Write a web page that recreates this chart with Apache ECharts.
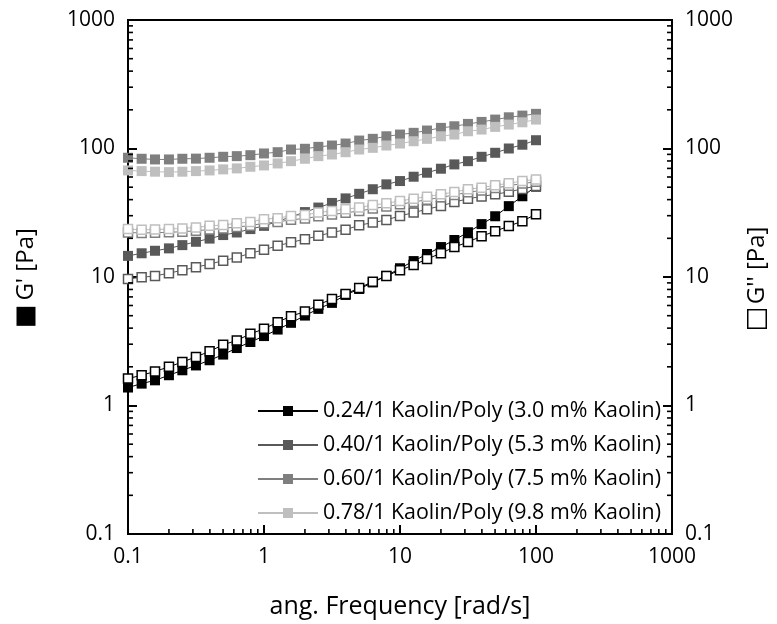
<!DOCTYPE html>
<html>
<head>
<meta charset="utf-8">
<script src="https://cdn.jsdelivr.net/npm/echarts@6/dist/echarts.min.js"></script>
<style>
  html, body { margin: 0; padding: 0; background: #ffffff; }
  #chart { width: 777px; height: 624px; }
</style>
</head>
<body>
<div id="chart"></div>
<script>
// Angular frequency sweep [rad/s], 10 points per decade
const frequency = [0.1, 0.126, 0.158, 0.2, 0.251, 0.316, 0.398, 0.501, 0.631, 0.794,
  1, 1.26, 1.58, 2, 2.51, 3.16, 3.98, 5.01, 6.31, 7.94,
  10, 12.6, 15.8, 20, 25.1, 31.6, 39.8, 50.1, 63.1, 79.4, 100];

// Sample labels (Kaolin/Poly ratio)
const samples = [
  '0.24/1 Kaolin/Poly (3.0 m% Kaolin)',
  '0.40/1 Kaolin/Poly (5.3 m% Kaolin)',
  '0.60/1 Kaolin/Poly (7.5 m% Kaolin)',
  '0.78/1 Kaolin/Poly (9.8 m% Kaolin)'
];

// Storage modulus G' [Pa]
const storage024 = [1.38, 1.48, 1.57, 1.72, 1.88, 2.05, 2.25, 2.49, 2.80, 3.12,
  3.47, 3.90, 4.40, 5.01, 5.65, 6.29, 7.25, 8.07, 9.07, 10.2,
  11.7, 13.3, 15.1, 17.1, 19.4, 22.3, 25.8, 29.7, 35.6, 42.5, 50.5];
const storage040 = [14.6, 15.3, 16.0, 16.7, 17.7, 18.8, 19.9, 21.2, 22.2, 23.6,
  25.0, 27.1, 29.4, 32.0, 34.7, 37.7, 40.9, 44.4, 48.2, 52.6,
  55.8, 60.3, 64.8, 69.6, 75.2, 79.7, 86.2, 92.6, 100, 107, 116];
const storage060 = [84.7, 83.2, 82.2, 82.2, 83.2, 83.4, 84.7, 86.2, 87.2, 88.7,
  91.5, 93.6, 98.2, 99.5, 103, 105.5, 109.3, 115.3, 118.9, 124.5,
  128.4, 132.4, 138, 144.7, 148.9, 155.4, 161, 167.9, 174.9, 180.3, 186];
const storage078 = [67.5, 66.7, 66.0, 65.5, 66.0, 66.7, 67.5, 68.8, 70.0, 72.1,
  73.8, 76.5, 79.7, 83.2, 87.2, 89.8, 93.6, 98.2, 101.2, 105.5,
  109.3, 113.9, 118.9, 124.5, 128.4, 136.2, 140.4, 147.3, 153.5, 159.9, 167.9];

// Loss modulus G'' [Pa]
const loss024 = [1.62, 1.72, 1.84, 2.00, 2.18, 2.39, 2.64, 2.97, 3.21, 3.61,
  3.95, 4.45, 4.96, 5.38, 6.07, 6.75, 7.38, 8.22, 9.20, 10.2,
  11.3, 12.4, 13.8, 15.3, 17.1, 18.7, 20.8, 22.7, 24.9, 27.2, 30.8];
const loss040 = [9.65, 9.94, 10.2, 10.7, 11.3, 11.9, 12.6, 13.4, 14.2, 15.3,
  16.3, 17.5, 18.6, 19.7, 20.9, 22.2, 23.3, 25.3, 26.5, 27.8,
  29.9, 31.7, 33.7, 35.7, 38.3, 40.6, 42.4, 44.0, 46.0, 48.5, 51.0];
const loss060 = [22.2, 22.0, 22.1, 22.3, 22.5, 22.9, 23.4, 23.9, 24.5, 25.1,
  26.2, 26.8, 27.9, 28.5, 29.7, 30.6, 31.6, 32.6, 34.1, 35.3,
  36.8, 38.4, 39.9, 41.7, 43.5, 45.6, 47.2, 49.3, 51.3, 53.4, 55.0];
const loss078 = [23.6, 23.3, 23.4, 23.6, 23.9, 24.3, 25.0, 25.4, 26.2, 26.8,
  28.2, 28.7, 29.9, 30.4, 31.7, 32.7, 33.7, 34.7, 36.3, 37.5,
  39.0, 40.7, 42.2, 44.0, 45.8, 48.1, 49.6, 51.7, 53.6, 55.8, 57.5];

// Axis ranges and decade tick labels
const xRange = [0.1, 1000];
const yRange = [0.1, 1000];
const decadeLabels = ['0.1', '1', '10', '100', '1000'];

const storageSets = [storage024, storage040, storage060, storage078];
const lossSets = [loss024, loss040, loss060, loss078];
const sampleColors = ['#000000', '#595959', '#7f7f7f', '#bfbfbf'];

const FONT = '"Open Sans", "Liberation Sans", sans-serif';

function pairs(values) {
  return frequency.map((f, i) => [f, values[i]]);
}

// minor tick positions 2..9 within each decade of the axis range
function minorValues(range) {
  const out = [];
  for (let e = Math.round(Math.log10(range[0])); e < Math.round(Math.log10(range[1])); e++) {
    for (let m = 2; m <= 9; m++) out.push(+(m * Math.pow(10, e)).toPrecision(3));
  }
  return out;
}

function tickSeries(points, dx, dy) {
  return {
    type: 'custom',
    silent: true,
    z: 6,
    clip: false,
    data: points,
    renderItem: function (params, api) {
      const p = api.coord([api.value(0), api.value(1)]);
      return {
        type: 'line',
        shape: { x1: p[0], y1: p[1], x2: p[0] + dx, y2: p[1] + dy },
        style: { stroke: '#000', lineWidth: 1.6 }
      };
    }
  };
}

const series = [];
samples.forEach((name, k) => {
  const c = sampleColors[k];
  series.push({
    name: name,
    type: 'line',
    data: pairs(storageSets[k]),
    symbol: 'rect',
    symbolSize: 10,
    itemStyle: { color: c },
    lineStyle: { color: c, width: 1 },
    emphasis: { disabled: true },
    z: 3
  });
  series.push({
    name: name + " G''",
    type: 'line',
    data: pairs(lossSets[k]),
    symbol: 'rect',
    symbolSize: 9,
    itemStyle: { color: '#ffffff', borderColor: c, borderWidth: 1.5 },
    lineStyle: { color: c, width: 1 },
    emphasis: { disabled: true },
    z: 3
  });
});

const yMinor = minorValues(yRange);
const xMinor = minorValues(xRange);
series.push(tickSeries(yMinor.map(v => [xRange[0], v]), 5, 0));
series.push(tickSeries(yMinor.map(v => [xRange[1], v]), -5, 0));
series.push(tickSeries(xMinor.map(v => [v, yRange[0]]), 0, -5));

function labelFormatter(v) {
  const s = String(+v.toPrecision(3));
  return decadeLabels.indexOf(s) >= 0 ? s : '';
}

const axisCommon = {
  type: 'log',
  logBase: 10,
  axisLine: { show: true, lineStyle: { color: '#000', width: 2 } },
  axisTick: { show: true, inside: true, length: 9, lineStyle: { color: '#000', width: 2 } },
  splitLine: { show: false },
  axisLabel: { color: '#000', fontSize: 21, fontFamily: FONT, formatter: labelFormatter }
};

const chart = echarts.init(document.getElementById('chart'), null, { renderer: 'canvas' });
chart.setOption({
  animation: false,
  backgroundColor: '#ffffff',
  grid: {
    left: 128, right: 98, top: 20, bottom: 88,
    show: true, borderColor: '#000', borderWidth: 2, backgroundColor: 'transparent'
  },
  legend: {
    data: samples,
    orient: 'vertical',
    left: 257,
    top: 399,
    padding: 0,
    itemWidth: 60,
    itemHeight: 12.5,
    itemGap: 10,
    selectedMode: false,
    textStyle: { color: '#000', fontSize: 21.4, fontFamily: FONT, lineHeight: 24 }
  },
  xAxis: Object.assign({}, axisCommon, {
    min: xRange[0], max: xRange[1],
    axisLabel: Object.assign({}, axisCommon.axisLabel, { margin: 13 }),
    name: 'ang. Frequency [rad/s]',
    nameLocation: 'middle',
    nameGap: 60,
    nameTextStyle: { color: '#000', fontSize: 25, fontFamily: FONT }
  }),
  yAxis: [
    Object.assign({}, axisCommon, {
      position: 'left',
      min: yRange[0], max: yRange[1],
      axisLabel: Object.assign({}, axisCommon.axisLabel, { margin: 13 }),
      name: "{box|\u00a0} G' [Pa]",
      nameLocation: 'middle',
      nameRotate: 90,
      nameGap: 90,
      nameTextStyle: {
        color: '#000', fontSize: 24, fontFamily: FONT,
        rich: { box: { width: 19, height: 19, backgroundColor: '#000' } }
      }
    }),
    Object.assign({}, axisCommon, {
      position: 'right',
      min: yRange[0], max: yRange[1],
      axisLabel: Object.assign({}, axisCommon.axisLabel, { margin: 13 }),
      name: "{box|\u00a0} G'' [Pa]",
      nameLocation: 'middle',
      nameRotate: 90,
      nameGap: 73,
      nameTextStyle: {
        color: '#000', fontSize: 24, fontFamily: FONT,
        rich: { box: { width: 17, height: 17, backgroundColor: '#fff', borderColor: '#000', borderWidth: 1.5 } }
      }
    })
  ],
  series: series
});
</script>
</body>
</html>
